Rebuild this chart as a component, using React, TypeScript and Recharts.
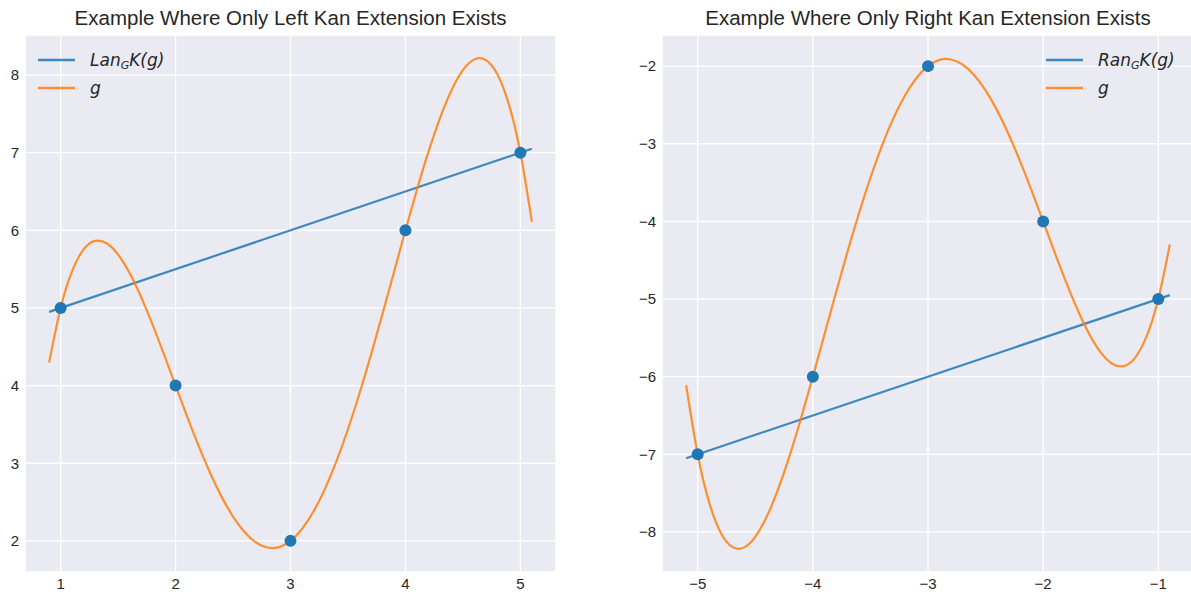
import { ComposedChart, Line, Scatter, XAxis, YAxis, CartesianGrid } from "recharts"

// sample points (blue dots)
const leftPointsX = [1, 2, 3, 4, 5]
const leftPointsY = [5, 4, 2, 6, 7]
const rightPointsX = [-5, -4, -3, -2, -1]
const rightPointsY = [-7, -6, -2, -4, -5]

// Kan extension lines
const leftLineX = [0.9, 5.1]
const leftLineY = [4.95, 7.05]
const rightLineX = [-5.1, -0.9]
const rightLineY = [-7.05, -4.95]

// g curves
const leftCurveX = [
  0.9, 1.0, 1.1, 1.2, 1.3, 1.4, 1.5, 1.6, 1.7, 1.8, 1.9, 2.0, 2.1, 2.2, 2.3,
  2.4, 2.5, 2.6, 2.7, 2.8, 2.9, 3.0, 3.1, 3.2, 3.3, 3.4, 3.5, 3.6, 3.7, 3.8,
  3.9, 4.0, 4.1, 4.2, 4.3, 4.4, 4.5, 4.6, 4.7, 4.8, 4.9, 5.0, 5.1
]
const leftCurveY = [
  4.298, 5.0, 5.475, 5.754, 5.864, 5.834, 5.688, 5.45, 5.142, 4.786, 4.399,
  4.0, 3.604, 3.226, 2.877, 2.57, 2.313, 2.114, 1.979, 1.914, 1.92, 2.0,
  2.153, 2.378, 2.67, 3.026, 3.438, 3.898, 4.396, 4.922, 5.461, 6.0, 6.522,
  7.01, 7.443, 7.802, 8.063, 8.202, 8.193, 8.01, 7.622, 7.0, 6.111
]
const rightCurveX = [
  -5.1, -5.0, -4.9, -4.8, -4.7, -4.6, -4.5, -4.4, -4.3, -4.2, -4.1, -4.0,
  -3.9, -3.8, -3.7, -3.6, -3.5, -3.4, -3.3, -3.2, -3.1, -3.0, -2.9, -2.8,
  -2.7, -2.6, -2.5, -2.4, -2.3, -2.2, -2.1, -2.0, -1.9, -1.8, -1.7, -1.6,
  -1.5, -1.4, -1.3, -1.2, -1.1, -1.0, -0.9
]
const rightCurveY = [
  -6.111, -7.0, -7.622, -8.01, -8.193, -8.202, -8.063, -7.802, -7.443, -7.01,
  -6.522, -6.0, -5.461, -4.922, -4.396, -3.898, -3.438, -3.026, -2.67,
  -2.378, -2.153, -2.0, -1.92, -1.914, -1.979, -2.114, -2.313, -2.57, -2.877,
  -3.226, -3.604, -4.0, -4.399, -4.786, -5.142, -5.45, -5.688, -5.834,
  -5.864, -5.754, -5.475, -5.0, -4.298
]

const leftXTicks = [1, 2, 3, 4, 5]
const leftYTicks = [2, 3, 4, 5, 6, 7, 8]
const rightXTicks = [-5, -4, -3, -2, -1]
const rightYTicks = [-8, -7, -6, -5, -4, -3, -2]

const BLUE = "#1f77b4"
const ORANGE = "#ff7f0e"
const FONT = '"Liberation Sans", Arial, sans-serif'
const MATH = '"DejaVu Sans", sans-serif'
const TEXT = "#262626"

const zip = (xs: number[], ys: number[]) => xs.map((x, i) => ({ x, y: ys[i] }))
const fmt = (v: number) => String(v).replace("-", "\u2212")

const renderDot = (p: any) => <circle cx={p.cx} cy={p.cy} r={6} fill={BLUE} />

interface PanelProps {
  left: number
  width: number
  yAxisWidth: number
  marginRight: number
  title: string
  points: { x: number; y: number }[]
  line: { x: number; y: number }[]
  curve: { x: number; y: number }[]
  xDomain: [number, number]
  yDomain: [number, number]
  xTicks: number[]
  yTicks: number[]
}

const Panel = (p: PanelProps) => {
  const plotW = p.width - p.yAxisWidth - p.marginRight
  return (
    <div style={{ position: "absolute", left: p.left, top: 0, width: p.width, height: 599 }}>
      <div
        style={{
          position: "absolute",
          left: p.yAxisWidth,
          width: plotW,
          top: 5,
          lineHeight: "26px",
          textAlign: "center",
          fontFamily: FONT,
          fontSize: 20.5,
          color: TEXT
        }}
      >
        {p.title}
      </div>
      <ComposedChart
        width={p.width}
        height={599}
        margin={{ top: 35, right: p.marginRight, bottom: 0, left: 0 }}
      >
        <CartesianGrid stroke="#ffffff" strokeWidth={1.3} fill="#EAEAF2" fillOpacity={1} />
        <XAxis
          type="number"
          dataKey="x"
          domain={p.xDomain}
          ticks={p.xTicks}
          allowDataOverflow
          axisLine={false}
          tickLine={false}
          tickSize={0}
          tickMargin={6}
          height={27}
          tickFormatter={fmt}
          tick={{ fill: TEXT, fontSize: 15, fontFamily: FONT }}
        />
        <YAxis
          type="number"
          dataKey="y"
          domain={p.yDomain}
          ticks={p.yTicks}
          allowDataOverflow
          axisLine={false}
          tickLine={false}
          tickSize={0}
          tickMargin={6}
          width={p.yAxisWidth}
          tickFormatter={fmt}
          tick={{ fill: TEXT, fontSize: 15, fontFamily: FONT }}
        />
        <Scatter data={p.points} shape={renderDot} isAnimationActive={false} />
        <Line
          data={p.line}
          dataKey="y"
          type="linear"
          stroke={BLUE}
          strokeOpacity={0.85}
          strokeWidth={2.2}
          dot={false}
          isAnimationActive={false}
        />
        <Line
          data={p.curve}
          dataKey="y"
          type="natural"
          stroke={ORANGE}
          strokeOpacity={0.85}
          strokeWidth={2.2}
          dot={false}
          isAnimationActive={false}
        />
      </ComposedChart>
    </div>
  )
}

const LegendBox = ({ left, name }: { left: number; name: string }) => {
  const row = (color: string, label: React.ReactNode, top: number) => (
    <div style={{ position: "absolute", left, top: top - 12, height: 24, display: "flex", alignItems: "center" }}>
      <svg width={52} height={24}>
        <line x1={0} y1={12} x2={37} y2={12} stroke={color} strokeOpacity={0.85} strokeWidth={2.6} />
      </svg>
      <span style={{ fontFamily: MATH, fontStyle: "italic", fontSize: 17, color: TEXT }}>{label}</span>
    </div>
  )
  return (
    <>
      {row(
        BLUE,
        <>
          {name}
          <span style={{ fontSize: 11, position: "relative", top: 3 }}>G</span>K(g)
        </>,
        60
      )}
      {row(ORANGE, "g", 88)}
    </>
  )
}

export default function App() {
  return (
    <div
      style={{
        position: "absolute",
        left: 0,
        top: 0,
        width: 1191,
        height: 599,
        overflow: "hidden",
        background: "#ffffff"
      }}
    >
      <Panel
        left={0}
        width={570}
        yAxisWidth={25}
        marginRight={14}
        title="Example Where Only Left Kan Extension Exists"
        points={zip(leftPointsX, leftPointsY)}
        line={zip(leftLineX, leftLineY)}
        curve={zip(leftCurveX, leftCurveY)}
        xDomain={[0.69, 5.31]}
        yDomain={[1.599, 8.516]}
        xTicks={leftXTicks}
        yTicks={leftYTicks}
      />
      <Panel
        left={600}
        width={600}
        yAxisWidth={62}
        marginRight={6}
        title="Example Where Only Right Kan Extension Exists"
        points={zip(rightPointsX, rightPointsY)}
        line={zip(rightLineX, rightLineY)}
        curve={zip(rightCurveX, rightCurveY)}
        xDomain={[-5.31, -0.69]}
        yDomain={[-8.516, -1.599]}
        xTicks={rightXTicks}
        yTicks={rightYTicks}
      />
      <LegendBox left={38} name="Lan" />
      <LegendBox left={1046} name="Ran" />
    </div>
  )
}
